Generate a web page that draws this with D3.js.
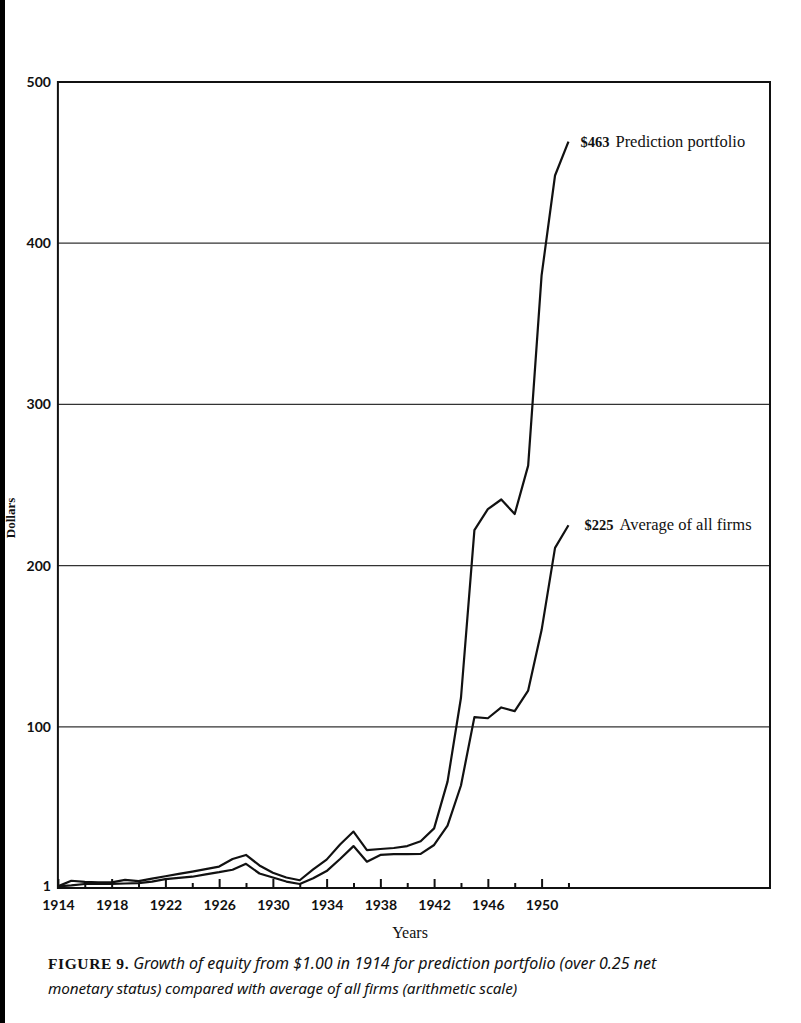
<!DOCTYPE html>
<html>
<head>
<meta charset="utf-8">
<script src="https://cdn.jsdelivr.net/npm/d3@7"></script>
<style>
  body { margin: 0; background: #fff; }
  svg { display: block; }
  .tick text { font-family: Lato, "Noto Sans", sans-serif; font-weight: bold; font-size: 14px; fill: #111; }
</style>
</head>
<body>
<script>
// values
let years = d3.range(1914, 1953)
let prediction = [1, 4.5, 3.8, 3.5, 3.5, 5, 4.3, 5.8, 7.3, 8.8, 10.2, 11.7, 13.3, 18, 20.5, 14, 9.5, 6.5, 4.8, 11.5,
                  17.6, 27, 35, 23.5, 24.2, 24.8, 26, 29, 37, 66, 118, 222, 235, 241, 232, 262, 380, 442, 463]
let average = [1, 1.6, 2.5, 2.5, 2.5, 2.8, 3, 4, 5.5, 6.3, 7, 8.5, 9.8, 11.3, 15, 9, 6.5, 4, 2.5, 6,
               10.5, 18, 26, 16.3, 20.5, 21, 21, 21.2, 26.7, 38.7, 63.6, 106, 105.3, 112, 109.7, 122.5, 160, 211, 225]
let xTicks = d3.range(1914, 1953, 2)
let yTicks = [1, 100, 200, 300, 400, 500]
let seriesLabels = ["Prediction portfolio", "Average of all firms"]

let width = 801
let height = 1023
let plotLeft = 57.9
let plotRight = 770
let plotTop = 82
let plotBottom = 888

let svg = d3.select("body")
            .append("svg")
            .attr("width", width)
            .attr("height", height)

let xScale = d3.scaleLinear()
               .domain([1914, 1967])
               .range([plotLeft, plotRight])

let yScale = d3.scaleLinear()
               .domain([0, 500])
               .range([plotBottom, plotTop])

// horizontal rules
svg.append("g")
   .selectAll("line")
   .data([100, 200, 300, 400])
   .enter()
   .append("line")
   .attr("x1", plotLeft)
   .attr("x2", plotRight)
   .attr("y1", d => yScale(d))
   .attr("y2", d => yScale(d))
   .attr("stroke", "#333")
   .attr("stroke-width", 1.2)

// x axis, ticks pointing up into the plot
let xAxis = d3.axisBottom(xScale)
              .tickValues(xTicks)
              .tickSize(-5)
              .tickPadding(12)
              .tickFormat(d => (d - 1914) % 4 == 0 ? d : "")

let gx = svg.append("g")
            .attr("id", "x-axis")
            .attr("transform", "translate(0," + plotBottom + ")")
            .call(xAxis)
gx.select(".domain").remove()
gx.selectAll(".tick line")
  .attr("stroke", "#111")
  .attr("stroke-width", 2)
  .attr("y2", d => (d - 1914) % 4 == 0 ? -9 : -5)

let yAxis = d3.axisLeft(yScale)
              .tickValues(yTicks)
              .tickSize(0)
              .tickPadding(7)

let gy = svg.append("g")
            .attr("id", "y-axis")
            .attr("transform", "translate(" + plotLeft + ",0)")
            .call(yAxis)
gy.select(".domain").remove()

// frame
svg.append("rect")
   .attr("x", plotLeft)
   .attr("y", plotTop)
   .attr("width", plotRight - plotLeft)
   .attr("height", plotBottom - plotTop)
   .attr("fill", "none")
   .attr("stroke", "#111")
   .attr("stroke-width", 2)

let line = d3.line()
             .x((d, i) => xScale(years[i]))
             .y(d => yScale(d))

svg.selectAll(".series")
   .data([prediction, average])
   .enter()
   .append("path")
   .attr("class", "series")
   .attr("d", d => line(d))
   .attr("fill", "none")
   .attr("stroke", "#111")
   .attr("stroke-width", 2.2)
   .attr("stroke-linejoin", "round")

// end labels
let ends = [prediction, average]
ends.forEach((s, i) => {
    let last = s[s.length - 1]
    let t = svg.append("text")
               .attr("x", xScale(years[years.length - 1]) + (i == 0 ? 12 : 16))
               .attr("y", yScale(last) + 5)
               .attr("font-family", "'Liberation Serif', serif")
               .attr("font-size", 16.5)
               .attr("fill", "#111")
    t.append("tspan")
     .attr("font-weight", "bold")
     .attr("font-size", 14.5)
     .text("$" + last)
    t.append("tspan")
     .attr("dx", 6)
     .text(seriesLabels[i])
})

// axis titles
svg.append("text")
   .attr("x", 410)
   .attr("y", 938)
   .attr("text-anchor", "middle")
   .attr("font-family", "'Liberation Serif', serif")
   .attr("font-size", 16)
   .attr("fill", "#111")
   .text("Years")

svg.append("text")
   .attr("transform", "translate(15,518) rotate(-90)")
   .attr("text-anchor", "middle")
   .attr("font-family", "'Liberation Serif', serif")
   .attr("font-weight", "bold")
   .attr("font-size", 13)
   .attr("fill", "#111")
   .text("Dollars")

// caption
let cap1 = svg.append("text")
              .attr("x", 48)
              .attr("y", 969)
              .attr("font-size", 16)
              .attr("fill", "#111")
cap1.append("tspan")
    .attr("font-family", "'Liberation Serif', serif")
    .attr("font-weight", "bold")
    .attr("font-size", 15.5)
    .attr("letter-spacing", 0.6)
    .text("FIGURE 9.")
cap1.append("tspan")
    .attr("dx", 4)
    .attr("font-family", "'Noto Sans', sans-serif")
    .attr("font-style", "italic")
    .text("Growth of equity from $1.00 in 1914 for prediction portfolio (over 0.25 net")

svg.append("text")
   .attr("x", 48)
   .attr("y", 994)
   .attr("font-family", "'Noto Sans', sans-serif")
   .attr("font-style", "italic")
   .attr("font-size", 15.3)
   .attr("letter-spacing", -0.1)
   .attr("fill", "#111")
   .text("monetary status) compared with average of all firms (arithmetic scale)")

// dark scan edge on the left
svg.append("rect")
   .attr("x", 0)
   .attr("y", 0)
   .attr("width", 5)
   .attr("height", height)
   .attr("fill", "#000")
</script>
</body>
</html>
